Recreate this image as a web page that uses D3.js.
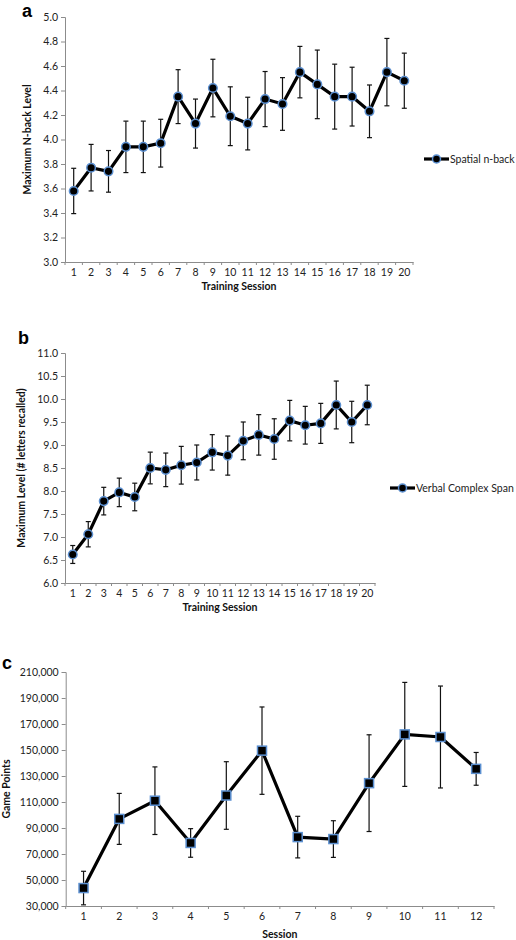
<!DOCTYPE html>
<html><head><meta charset="utf-8">
<script src="https://cdn.jsdelivr.net/npm/d3@7"></script>
<style>body{margin:0;background:#fff}svg{display:block}</style>
</head><body>
<svg id="chart" width="516" height="940"></svg>
<script>
// ---- Data ----
const sessionsA = d3.range(1, 21).map(String);
const spatialNback = [3.58,3.77,3.74,3.94,3.94,3.97,4.35,4.13,4.42,4.19,4.13,4.33,4.29,4.55,4.45,4.35,4.35,4.23,4.55,4.48];
const spatialErr   = [0.185,0.19,0.17,0.21,0.21,0.195,0.22,0.20,0.235,0.24,0.215,0.225,0.215,0.21,0.28,0.265,0.24,0.215,0.275,0.225];
const ticksA = [3.0,3.2,3.4,3.6,3.8,4.0,4.2,4.4,4.6,4.8,5.0];

const sessionsB = d3.range(1, 21).map(String);
const verbalSpan = [6.62,7.06,7.78,7.97,7.87,8.50,8.46,8.56,8.62,8.84,8.77,9.09,9.22,9.13,9.53,9.43,9.47,9.87,9.50,9.87];
const verbalErr  = [0.195,0.275,0.30,0.31,0.30,0.345,0.365,0.41,0.38,0.385,0.425,0.41,0.44,0.44,0.44,0.41,0.435,0.52,0.45,0.43];
const ticksB = [6.0,6.5,7.0,7.5,8.0,8.5,9.0,9.5,10.0,10.5,11.0];

const sessionsC = d3.range(1, 13).map(String);
const gamePoints = [43800,97000,111000,78500,115000,149500,83000,81500,124500,162000,160000,135500];
const gameErr    = [12900,19600,26000,11000,26000,33600,16000,14100,37200,40000,39200,12600];
const ticksC = [30000,50000,70000,90000,110000,130000,150000,170000,190000,210000];

// ---- Drawing ----
const svg = d3.select("#chart");
const FONT = "Lato, 'Liberation Sans', sans-serif";
const FS = 10.5;
const AXIS = "#8c8c8c";
const BLUE = "#5b8fd0";

function panel(o) {
  const g = svg.append("g");
  const x = d3.scaleBand().domain(o.cats).range([o.x0, o.x1]);
  const y = d3.scaleLinear().domain([o.ticks[0], o.ticks[o.ticks.length-1]]).range([o.yb, o.yt]);

  // y axis
  const ya = g.append("g").attr("transform", `translate(${o.x0},0)`)
    .call(d3.axisLeft(y).tickValues(o.ticks).tickSize(4).tickPadding(3).tickFormat(o.fmt));
  ya.select(".domain").attr("stroke", AXIS);
  ya.selectAll(".tick line").attr("stroke", AXIS);
  ya.selectAll("text").attr("font-family", FONT).attr("font-size", FS).attr("fill", "#222");

  // x axis with ticks at band boundaries
  const xa = g.append("g").attr("transform", `translate(0,${o.yb})`)
    .call(d3.axisBottom(x).tickSize(0).tickPadding(7));
  xa.select(".domain").attr("stroke", AXIS);
  xa.selectAll("text").attr("font-family", FONT).attr("font-size", FS).attr("fill", "#222");
  const bounds = o.cats.map((c) => x(c)).concat([o.x1]);
  g.selectAll(".bt").data(bounds).enter().append("line")
    .attr("x1", d => d).attr("x2", d => d)
    .attr("y1", o.yb).attr("y2", o.yb + 3).attr("stroke", AXIS);

  // axis titles
  g.append("text").attr("x", (o.x0 + o.x1) / 2).attr("y", o.yb + o.xtOff)
    .attr("text-anchor", "middle").attr("font-family", FONT).attr("font-weight", "bold")
    .attr("font-size", FS).attr("fill", "#111").text(o.xTitle);
  g.append("text").attr("transform", `translate(${o.ytX},${(o.yt + o.yb) / 2}) rotate(-90)`)
    .attr("text-anchor", "middle").attr("font-family", FONT).attr("font-weight", "bold")
    .attr("font-size", FS).attr("fill", "#111").text(o.yTitle);

  // panel letter
  g.append("text").attr("x", o.lx).attr("y", o.ly).attr("font-family", "'Liberation Sans', Arial, sans-serif")
    .attr("font-weight", "bold").attr("font-size", 18).attr("fill", "#000").text(o.letter);

  const cx = (i) => x(o.cats[i]) + x.bandwidth() / 2;
  const pts = o.vals.map((v, i) => ({ i, v, e: o.errs[i] }));

  // error bars
  const eb = g.append("g").attr("stroke", "#111").attr("stroke-width", 1.2);
  pts.forEach(p => {
    const X = cx(p.i), t = y(p.v + p.e), b = y(p.v - p.e);
    eb.append("line").attr("x1", X).attr("x2", X).attr("y1", t).attr("y2", b);
    eb.append("line").attr("x1", X - 2.5).attr("x2", X + 2.5).attr("y1", t).attr("y2", t);
    eb.append("line").attr("x1", X - 2.5).attr("x2", X + 2.5).attr("y1", b).attr("y2", b);
  });

  // line
  g.append("path").datum(pts)
    .attr("d", d3.line().x(p => cx(p.i)).y(p => y(p.v)))
    .attr("fill", "none").attr("stroke", "#000").attr("stroke-width", 3.2);

  // markers
  if (o.marker === "circle") {
    g.selectAll(".m").data(pts).enter().append("circle")
      .attr("cx", p => cx(p.i)).attr("cy", p => y(p.v)).attr("r", 4.3)
      .attr("fill", "#000").attr("stroke", BLUE).attr("stroke-width", 1.5);
  } else {
    g.selectAll(".m").data(pts).enter().append("rect")
      .attr("x", p => cx(p.i) - 4.5).attr("y", p => y(p.v) - 4.5)
      .attr("width", 9).attr("height", 9)
      .attr("fill", "#000").attr("stroke", BLUE).attr("stroke-width", 1.5);
  }

  // legend
  if (o.legend) {
    const lg = g.append("g").attr("transform", `translate(${o.legX},${o.legY})`);
    lg.append("line").attr("x1", 0).attr("x2", 25).attr("y1", 0).attr("y2", 0)
      .attr("stroke", "#000").attr("stroke-width", 3.2);
    lg.append("circle").attr("cx", 12.5).attr("cy", 0).attr("r", 4)
      .attr("fill", "#000").attr("stroke", BLUE).attr("stroke-width", 1.5);
    lg.append("text").attr("x", 26).attr("y", 3.5).attr("font-family", FONT)
      .attr("font-size", FS).attr("fill", "#222").text(o.legend);
  }
}

panel({ cats: sessionsA, vals: spatialNback, errs: spatialErr, ticks: ticksA, fmt: d3.format(".1f"),
  x0: 65, x1: 413, yt: 17, yb: 262, xtOff: 28, ytX: 31, xTitle: "Training Session",
  yTitle: "Maximum N-back Level", letter: "a", lx: 22, ly: 17, marker: "circle",
  legend: "Spatial n-back", legX: 424, legY: 159 });

panel({ cats: sessionsB, vals: verbalSpan, errs: verbalErr, ticks: ticksB, fmt: d3.format(".1f"),
  x0: 65, x1: 375, yt: 353, yb: 583, xtOff: 28, ytX: 25, xTitle: "Training Session",
  yTitle: "Maximum Level (# letters recalled)", letter: "b", lx: 18, ly: 344, marker: "circle",
  legend: "Verbal Complex Span", legX: 390, legY: 488 });

panel({ cats: sessionsC, vals: gamePoints, errs: gameErr, ticks: ticksC, fmt: d3.format(","),
  x0: 65.7, x1: 494, yt: 672, yb: 906, xtOff: 32, ytX: 10, xTitle: "Session",
  yTitle: "Game Points", letter: "c", lx: 2, ly: 669, marker: "square" });
</script>
</body></html>
